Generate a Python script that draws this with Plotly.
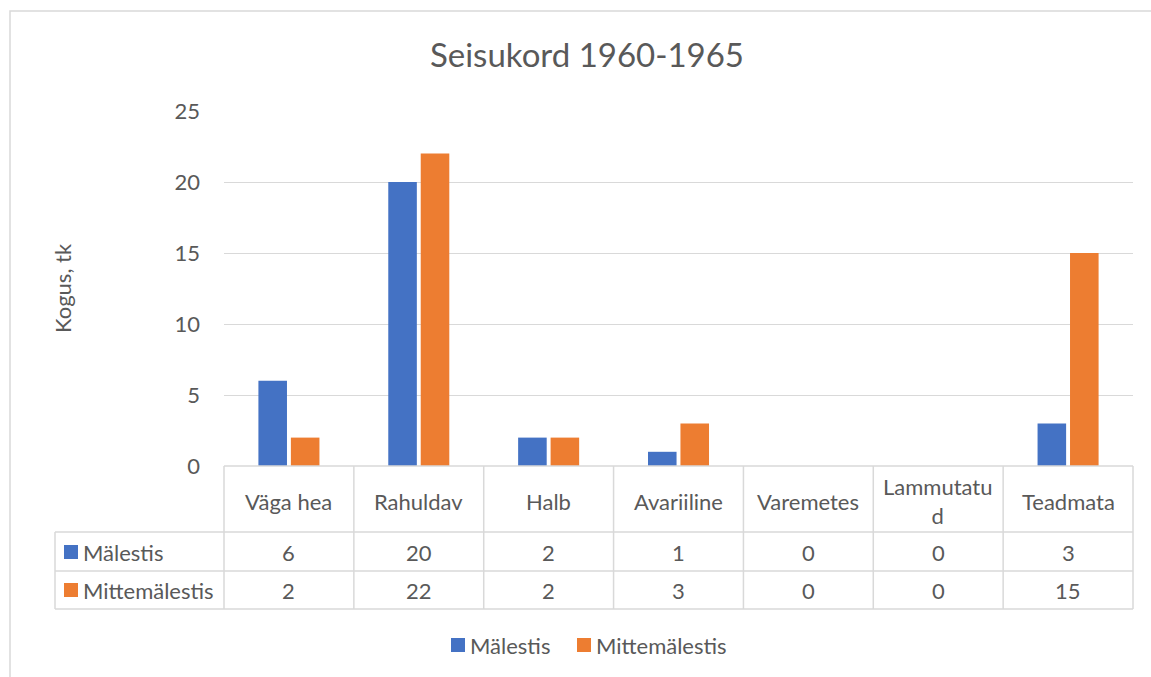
import plotly.graph_objects as go

# ---------------------------------------------------------------------------
# Data
# ---------------------------------------------------------------------------
categories = ["Väga hea", "Rahuldav", "Halb", "Avariiline", "Varemetes", "Lammutatud", "Teadmata"]
header_labels = ["Väga hea", "Rahuldav", "Halb", "Avariiline", "Varemetes", "Lammutatu<br>d", "Teadmata"]
series_names = ["Mälestis", "Mittemälestis"]
malestis = [6, 20, 2, 1, 0, 0, 3]
mittemalestis = [2, 22, 2, 3, 0, 0, 15]
series_values = [malestis, mittemalestis]
y_ticks = [0, 5, 10, 15, 20, 25]

# ---------------------------------------------------------------------------
# Style
# ---------------------------------------------------------------------------
W, H = 1151, 677
M_L, M_R, M_T, M_B = 224, 18, 111, 211
COLORS = ["#4472C4", "#ED7D31"]
TEXT = "#595959"
GRID = "#D9D9D9"
FONT = "Lato"
FS = 22

PLOT_W = W - M_L - M_R
PLOT_H = H - M_T - M_B


def px_x(x):
    return (x - M_L) / PLOT_W


def px_y(y):
    return (H - M_B - y) / PLOT_H


X_RANGE = [-0.5, len(categories) - 0.5]


def cat_x(v):
    return (v - X_RANGE[0]) / (X_RANGE[1] - X_RANGE[0])


fig = go.Figure()
for name, vals, clr in zip(series_names, series_values, COLORS):
    fig.add_trace(go.Bar(
        x=categories, y=vals, name=name,
        marker=dict(color=clr, line_width=0),
        showlegend=False,
    ))

shapes = []
annotations = []
line = dict(color=GRID, width=1.5)

# table rows (pixel positions of horizontal rules)
ROW_TOP, ROW_1, ROW_2, ROW_BOT = 466, 532, 571, 609
TABLE_LEFT = 55
n = len(categories)

# horizontal rules
shapes.append(dict(type="line", xref="paper", yref="paper",
                   x0=cat_x(-0.5), x1=cat_x(n - 0.5), y0=px_y(ROW_TOP), y1=px_y(ROW_TOP), line=line))
for yy in (ROW_1, ROW_2, ROW_BOT):
    shapes.append(dict(type="line", xref="paper", yref="paper",
                       x0=px_x(TABLE_LEFT), x1=cat_x(n - 0.5), y0=px_y(yy), y1=px_y(yy), line=line))
# vertical rules
for i in range(n + 1):
    shapes.append(dict(type="line", xref="paper", yref="paper",
                       x0=cat_x(i - 0.5), x1=cat_x(i - 0.5),
                       y0=px_y(ROW_TOP), y1=px_y(ROW_BOT), line=line))
shapes.append(dict(type="line", xref="paper", yref="paper",
                   x0=px_x(TABLE_LEFT), x1=px_x(TABLE_LEFT),
                   y0=px_y(ROW_1), y1=px_y(ROW_BOT), line=line))

# header labels
for cat, lab in zip(categories, header_labels):
    annotations.append(dict(x=cat, y=px_y(501), xref="x", yref="paper", text=lab,
                            showarrow=False, font=dict(size=FS, color=TEXT),
                            xanchor="center", yanchor="middle"))

# data rows
row_centers = [552, 590]
for name, vals, clr, yc in zip(series_names, series_values, COLORS, row_centers):
    shapes.append(dict(type="rect", xref="paper", yref="paper",
                       x0=px_x(64), x1=px_x(78), y0=px_y(yc - 7), y1=px_y(yc + 7),
                       fillcolor=clr, line_width=0))
    annotations.append(dict(x=px_x(81), y=px_y(yc), xref="paper", yref="paper", text=name,
                            showarrow=False, font=dict(size=FS, color=TEXT),
                            xanchor="left", yanchor="middle"))
    for cat, v in zip(categories, vals):
        annotations.append(dict(x=cat, y=px_y(yc), xref="x", yref="paper", text=str(v),
                                showarrow=False, font=dict(size=FS, color=TEXT),
                                xanchor="center", yanchor="middle"))

# legend
legend_x = [451, 577]
for name, clr, lx in zip(series_names, COLORS, legend_x):
    shapes.append(dict(type="rect", xref="paper", yref="paper",
                       x0=px_x(lx), x1=px_x(lx + 14), y0=px_y(645 - 7), y1=px_y(645 + 7),
                       fillcolor=clr, line_width=0))
    annotations.append(dict(x=px_x(lx + 17), y=px_y(645), xref="paper", yref="paper", text=name,
                            showarrow=False, font=dict(size=FS, color=TEXT),
                            xanchor="left", yanchor="middle"))

# axis title
annotations.append(dict(x=px_x(62), y=px_y(288), xref="paper", yref="paper", text="Kogus, tk",
                        textangle=-90, showarrow=False, font=dict(size=FS, color=TEXT),
                        xanchor="center", yanchor="middle"))

# chart area border
shapes.append(dict(type="rect", xref="paper", yref="paper",
                   x0=px_x(10), x1=px_x(W + 20), y0=px_y(11), y1=px_y(H + 20),
                   line=dict(color=GRID, width=1.5), fillcolor="rgba(0,0,0,0)"))

fig.update_layout(
    width=W, height=H,
    margin=dict(l=M_L, r=M_R, t=M_T, b=M_B, autoexpand=False),
    paper_bgcolor="white", plot_bgcolor="white",
    font=dict(family=FONT, size=FS, color=TEXT),
    title=dict(text="Seisukord 1960-1965", x=587 / W, xanchor="center",
               y=1 - 55 / H, yanchor="middle", yref="container",
               font=dict(size=33, color=TEXT, family=FONT)),
    barmode="group", bargap=0.5, bargroupgap=0.12,
    xaxis=dict(range=X_RANGE, showticklabels=False, showgrid=False, zeroline=False,
               showline=False, ticks=""),
    yaxis=dict(range=[0, 25], tickvals=y_ticks, showgrid=True, gridcolor=GRID, gridwidth=1,
               zeroline=False, showline=False, ticks="", ticklabelstandoff=23,
               tickfont=dict(size=FS, color=TEXT)),
    shapes=shapes, annotations=annotations,
)

fig.write_html("out.html", config={"displayModeBar": False},
               post_script="document.body.style.margin='0px';")
